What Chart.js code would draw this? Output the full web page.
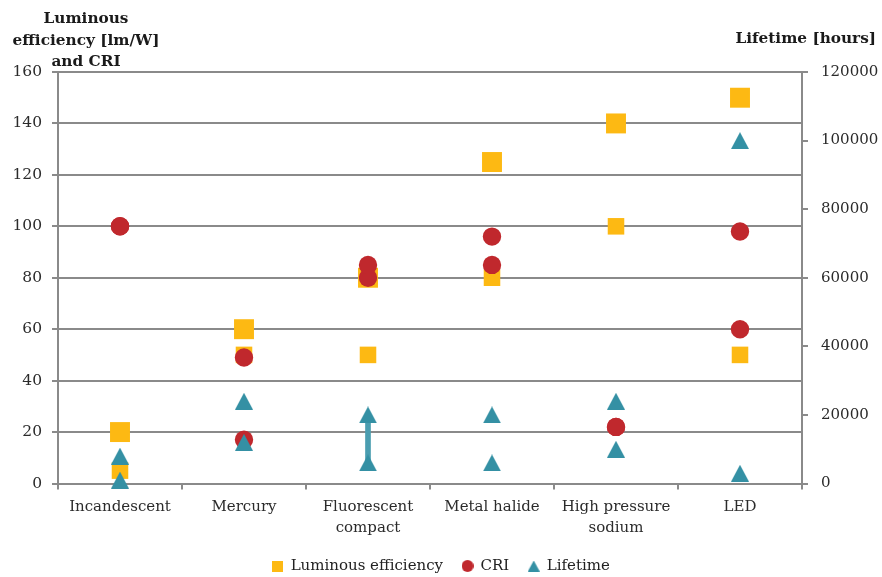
<!DOCTYPE html>
<html>
<head>
<meta charset="utf-8">
<script src="https://cdn.jsdelivr.net/npm/chart.js@4/dist/chart.umd.min.js"></script>
<style>
  html, body { margin: 0; padding: 0; background: #ffffff; }
  #wrap { position: relative; width: 882px; height: 577px; }
  .axis-title {
    position: absolute;
    font-family: "DejaVu Serif", serif;
    font-weight: bold;
    font-size: 15.3px;
    line-height: 21.5px;
    color: #1a1a1a;
    white-space: nowrap;
  }
  #leftTitle { left: 6px; top: 8px; width: 160px; text-align: center; }
  #rightTitle { right: 6px; top: 28px; text-align: right; }
</style>
</head>
<body>
<div id="wrap">
  <canvas id="chart" width="882" height="577"></canvas>
  <div id="leftTitle" class="axis-title">Luminous<br>efficiency [lm/W]<br>and CRI</div>
  <div id="rightTitle" class="axis-title">Lifetime [hours]</div>
</div>
<script>
// Lamp technologies on the category axis
const categories = ['Incandescent', 'Mercury', ['Fluorescent', 'compact'], 'Metal halide', ['High pressure', 'sodium'], 'LED'];

// Luminous efficiency [lm/W]: upper and lower end of the range
const efficiencyHigh = [20, 60, 80, 125, 140, 150];
const efficiencyLow  = [5, 50, 50, 80, 100, 50];

// Colour rendering index: upper and lower end of the range
const criHigh = [100, 49, 85, 96, 22, 98];
const criLow  = [100, 17, 80, 85, 22, 60];

// Lifetime [hours] (right axis): upper and lower end of the range
const lifetimeHigh = [8000, 24000, 20000, 20000, 24000, 100000];
const lifetimeLow  = [1000, 12000, 6000, 6000, 10000, 3000];
// Categories where the lifetime range is joined by a bar
const lifetimeSpanShown = [false, false, true, false, false, false];

// Axis ticks
const leftTicks  = [0, 20, 40, 60, 80, 100, 120, 140, 160];
const rightTicks = [0, 20000, 40000, 60000, 80000, 100000, 120000];

const YELLOW = '#FDB913';
const RED = '#C0282D';
const TEAL = '#3490A4';
const TEAL_BAR = '#4A9DB0';
const GRID = '#8A8A8A';
const TEXT = '#2b2b2b';
const FONT = '"DejaVu Serif", serif';

function shapeCanvas(kind, w, h, color) {
  const c = document.createElement('canvas');
  c.width = w; c.height = h;
  const g = c.getContext('2d');
  g.fillStyle = color;
  g.beginPath();
  if (kind === 'triangle') {
    g.moveTo(w / 2, 0); g.lineTo(w, h); g.lineTo(0, h); g.closePath();
  } else if (kind === 'circle') {
    g.arc(w / 2, h / 2, w / 2, 0, Math.PI * 2);
  } else {
    g.rect(0, 0, w, h);
  }
  g.fill();
  return c;
}

const triangleMarker = shapeCanvas('triangle', 18, 17, TEAL);
const legendIcons = {
  efficiency: shapeCanvas('rect', 11, 11, YELLOW),
  cri: shapeCanvas('circle', 12, 12, RED),
  lifetime: shapeCanvas('triangle', 12, 11, TEAL)
};

function markers(label, key, values, style, radius, color, axis, order, inLegend) {
  return {
    type: 'line',
    label: label,
    legendKey: key,
    inLegend: inLegend,
    data: values,
    yAxisID: axis,
    showLine: false,
    clip: false,
    pointStyle: style,
    pointRadius: radius,
    pointHoverRadius: radius,
    pointBackgroundColor: color,
    pointBorderWidth: 0,
    backgroundColor: color,
    borderColor: color,
    order: order
  };
}

const datasets = [
  markers('Luminous efficiency', 'efficiency', efficiencyHigh, 'rect', 14.1, YELLOW, 'yL', 5, true),
  markers('Luminous efficiency', 'efficiency', efficiencyLow, 'rect', 11.7, YELLOW, 'yL', 5, false),
  markers('CRI', 'cri', criHigh, 'circle', 9.2, RED, 'yL', 3, true),
  markers('CRI', 'cri', criLow, 'circle', 9.2, RED, 'yL', 3, false),
  markers('Lifetime', 'lifetime', lifetimeHigh, triangleMarker, 10, TEAL, 'yR', 1, true),
  markers('Lifetime', 'lifetime', lifetimeLow, triangleMarker, 10, TEAL, 'yR', 1, false),
  {
    type: 'bar',
    label: 'Lifetime range',
    inLegend: false,
    data: lifetimeSpanShown.map((s, i) => s ? [lifetimeLow[i], lifetimeHigh[i]] : null),
    yAxisID: 'yR',
    backgroundColor: TEAL_BAR,
    borderWidth: 0,
    barThickness: 5,
    order: 2
  }
];

new Chart(document.getElementById('chart'), {
  type: 'line',
  data: { labels: categories, datasets: datasets },
  options: {
    responsive: false,
    animation: false,
    devicePixelRatio: 1,
    layout: { padding: { top: 72, left: 0, right: 0, bottom: -6.5 } },
    plugins: {
      tooltip: { enabled: false },
      legend: {
        position: 'bottom',
        labels: {
          usePointStyle: true,
          boxWidth: 11,
          boxHeight: 11,
          padding: 19,
          color: '#222222',
          font: { family: FONT, size: 15 },
          filter: (item, data) => data.datasets[item.datasetIndex].inLegend,
          sort: (a, b) => a.datasetIndex - b.datasetIndex,
          generateLabels: (chart) => {
            const items = Chart.defaults.plugins.legend.labels.generateLabels(chart);
            items.forEach(it => {
              const ds = chart.data.datasets[it.datasetIndex];
              if (ds.legendKey) it.pointStyle = legendIcons[ds.legendKey];
            });
            return items;
          }
        }
      }
    },
    scales: {
      x: {
        type: 'category',
        offset: true,
        afterFit: (s) => { s.height = 56; },
        grid: { offset: true, drawOnChartArea: false, drawTicks: true, tickLength: 6, color: GRID, lineWidth: 2 },
        border: { display: true, color: GRID, width: 2 },
        ticks: { color: TEXT, padding: 7, maxRotation: 0, autoSkip: false, font: { family: FONT, size: 15, lineHeight: 1.4 } }
      },
      yL: {
        type: 'linear',
        position: 'left',
        min: leftTicks[0],
        max: leftTicks[leftTicks.length - 1],
        afterFit: (s) => { s.width = 58; },
        afterBuildTicks: (s) => { s.ticks = leftTicks.map(v => ({ value: v })); },
        grid: { color: GRID, lineWidth: 2, tickLength: 6, drawTicks: true },
        border: { display: true, color: GRID, width: 2 },
        ticks: { color: TEXT, padding: 10, font: { family: FONT, size: 15.5 }, callback: (v) => String(v) }
      },
      yR: {
        type: 'linear',
        position: 'right',
        min: rightTicks[0],
        max: rightTicks[rightTicks.length - 1],
        afterFit: (s) => { s.width = 80; },
        afterBuildTicks: (s) => { s.ticks = rightTicks.map(v => ({ value: v })); },
        grid: { drawOnChartArea: false, color: GRID, lineWidth: 2, tickLength: 6, drawTicks: true },
        border: { display: true, color: GRID, width: 2 },
        ticks: { color: TEXT, padding: 13, font: { family: FONT, size: 15 }, callback: (v) => String(v) }
      }
    }
  }
});
</script>
</body>
</html>
